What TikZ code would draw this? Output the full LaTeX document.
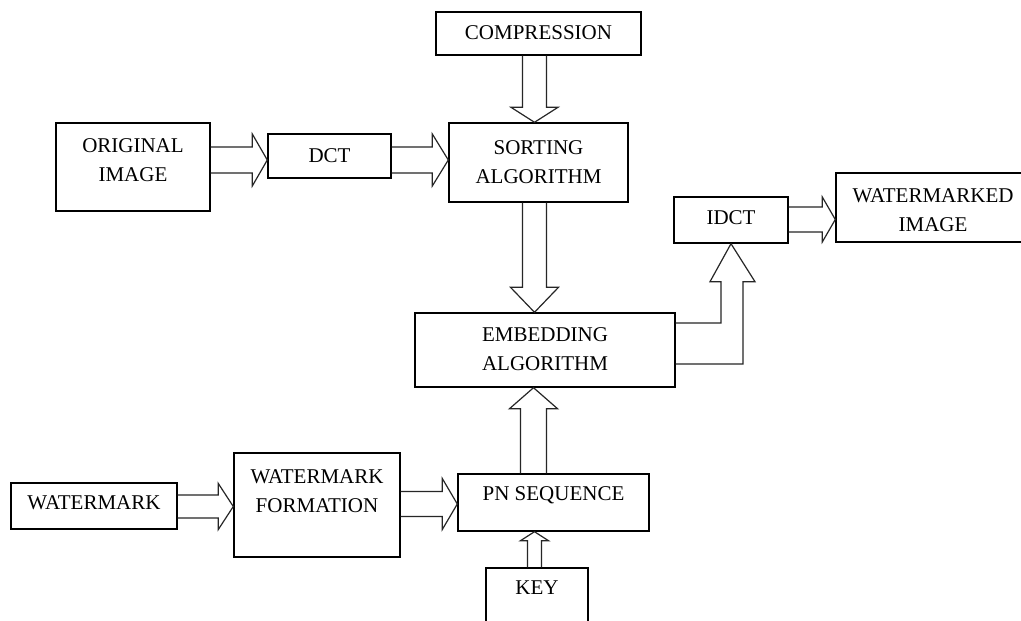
\documentclass[tikz,border=0pt]{standalone}
\usepackage{fontspec}
\setmainfont{Liberation Serif}
\usetikzlibrary{calc}
\tikzset{
  box/.style={draw=black, line width=1.4pt, rectangle, inner sep=0pt},
  txt/.style={align=center, inner sep=0pt, font=\fontsize{21}{29}\selectfont},
  blk/.style={draw=black!85, line width=1.2pt, line join=miter}
}
% horizontal block arrow: from, to, y centre, shaft half, head half, head length
\newcommand\HArrow[6]{%
  \draw[blk] ($(#1.east|-0,#3)+(0,-#4)$) -- ($(#2.west|-0,#3)+(-#6,-#4)$) -- ($(#2.west|-0,#3)+(-#6,-#5)$) -- (#2.west|-0,#3) -- ($(#2.west|-0,#3)+(-#6,#5)$) -- ($(#2.west|-0,#3)+(-#6,#4)$) -- ($(#1.east|-0,#3)+(0,#4)$);}
% vertical block arrow downward: from, to, x centre, shaft half, head half, head length
\newcommand\VArrowDn[6]{%
  \draw[blk] ($(#1.south-|#3,0)+(-#4,0)$) -- ($(#2.north-|#3,0)+(-#4,-#6)$) -- ($(#2.north-|#3,0)+(-#5,-#6)$) -- (#2.north-|#3,0) -- ($(#2.north-|#3,0)+(#5,-#6)$) -- ($(#2.north-|#3,0)+(#4,-#6)$) -- ($(#1.south-|#3,0)+(#4,0)$);}
% vertical block arrow upward: from, to, x centre, shaft half, head half, head length
\newcommand\VArrowUp[6]{%
  \draw[blk] ($(#1.north-|#3,0)+(-#4,0)$) -- ($(#2.south-|#3,0)+(-#4,#6)$) -- ($(#2.south-|#3,0)+(-#5,#6)$) -- (#2.south-|#3,0) -- ($(#2.south-|#3,0)+(#5,#6)$) -- ($(#2.south-|#3,0)+(#4,#6)$) -- ($(#1.north-|#3,0)+(#4,0)$);}
\begin{document}
\begin{tikzpicture}[x=1pt,y=-1pt]
\useasboundingbox (0,0) rectangle (1021,621);
\fill[white] (0,0) rectangle (1021,621);

% boxes
\node[box, minimum width=205, minimum height=43] (comp) at (538.5,33.5) {};
\node[box, minimum width=179, minimum height=79] (sort) at (538.5,162.5) {};
\node[box, minimum width=154, minimum height=88] (orig) at (133,167) {};
\node[box, minimum width=123, minimum height=44] (dct) at (329.5,156) {};
\node[box, minimum width=114, minimum height=46] (idct) at (731,220) {};
\node[box, minimum width=194, minimum height=69] (wmimg) at (933,207.5) {};
\node[box, minimum width=260, minimum height=74] (emb) at (545,350) {};
\node[box, minimum width=166, minimum height=46] (wm) at (94,506) {};
\node[box, minimum width=166, minimum height=104] (wmf) at (317,505) {};
\node[box, minimum width=191, minimum height=57] (pn) at (553.5,502.5) {};
\node[box, minimum width=102, minimum height=72] (key) at (537,604) {};

% texts
\node[txt] (tcomp) at (538.5,33) {COMPRESSION};
\node[txt] (tsort) at (538.5,162) {SORTING\\ALGORITHM};
\node[txt] (torig) at (133,160) {ORIGINAL\\IMAGE};
\node[txt] (tdct) at (329.5,156) {DCT};
\node[txt] (tidct) at (731,218) {IDCT};
\node[txt] (twmimg) at (933,210) {WATERMARKED\\IMAGE};
\node[txt] (temb) at (545,349) {EMBEDDING\\ALGORITHM};
\node[txt] (twm) at (94,503) {WATERMARK};
\node[txt] (twmf) at (317,491) {WATERMARK\\FORMATION};
\node[txt] (tpn) at (553.5,495) {PN SEQUENCE};
\node[txt] (tkey) at (537,588) {KEY};

% block arrows
\HArrow{orig}{dct}{160}{13}{26}{15}
\HArrow{dct}{sort}{160}{13}{26}{16}
\HArrow{idct}{wmimg}{219.5}{12.5}{22.5}{13}
\HArrow{wm}{wmf}{506.5}{11.5}{23}{15}
\HArrow{wmf}{pn}{504}{12.5}{25.5}{15}
\VArrowDn{comp}{sort}{534.5}{12}{23.5}{15}
\VArrowDn{sort}{emb}{534.5}{12}{24}{25}
\VArrowUp{pn}{emb}{533.5}{13}{24}{21}
\VArrowUp{key}{pn}{534.5}{7}{14}{9}

% bent arrow embedding -> IDCT
\coordinate (b1) at ($(idct.south)+(-10,38)$);
\coordinate (b2) at ($(idct.south)+(12,38)$);
\draw[blk] (emb.east|-0,323) -- (b1|-0,323) -- (b1) -- ($(idct.south)+(-21,38)$) -- (idct.south) -- ($(idct.south)+(24,38)$) -- (b2) -- (b2|-0,364) -- (emb.east|-0,364);
\end{tikzpicture}
\end{document}
